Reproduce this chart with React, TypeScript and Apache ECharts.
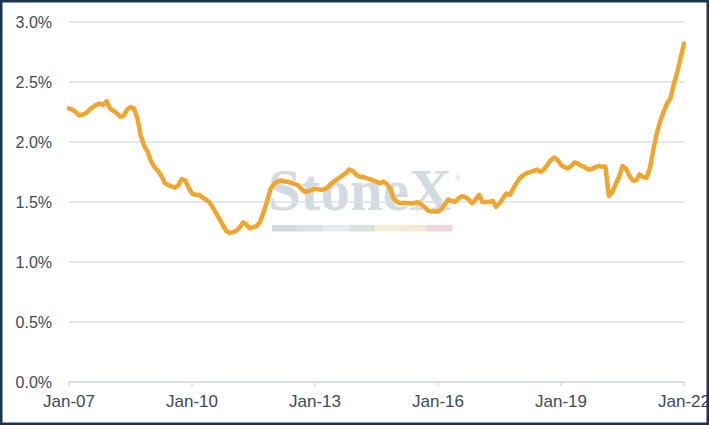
import React, { useEffect, useRef } from "react";
import * as echarts from "echarts";

const monthNames = ["Jan","Feb","Mar","Apr","May","Jun","Jul","Aug","Sep","Oct","Nov","Dec"];
const startYear = 2007;
const yTicks = [0, 0.5, 1.0, 1.5, 2.0, 2.5, 3.0];

// Monthly values, Jan-07 .. Jan-22 (%)
const values2007 = [2.28, 2.27, 2.25, 2.22, 2.23, 2.24, 2.27, 2.29, 2.31, 2.32, 2.31, 2.34];
const values2008 = [2.28, 2.26, 2.24, 2.21, 2.22, 2.27, 2.29, 2.28, 2.20, 2.05, 1.97, 1.92];
const values2009 = [1.84, 1.79, 1.76, 1.72, 1.66, 1.64, 1.63, 1.62, 1.64, 1.69, 1.68, 1.62];
const values2010 = [1.57, 1.56, 1.56, 1.54, 1.52, 1.50, 1.46, 1.41, 1.36, 1.31, 1.26, 1.24];
const values2011 = [1.25, 1.26, 1.29, 1.33, 1.31, 1.28, 1.29, 1.30, 1.34, 1.42, 1.51, 1.61];
const values2012 = [1.65, 1.67, 1.68, 1.67, 1.67, 1.66, 1.65, 1.64, 1.61, 1.585, 1.59, 1.60];
const values2013 = [1.61, 1.605, 1.60, 1.61, 1.63, 1.66, 1.68, 1.70, 1.72, 1.74, 1.77, 1.76];
const values2014 = [1.73, 1.71, 1.71, 1.70, 1.69, 1.68, 1.67, 1.655, 1.67, 1.65, 1.61, 1.53];
const values2015 = [1.50, 1.49, 1.495, 1.49, 1.49, 1.49, 1.50, 1.48, 1.46, 1.43, 1.42, 1.42];
const values2016 = [1.42, 1.44, 1.48, 1.52, 1.51, 1.50, 1.53, 1.55, 1.54, 1.52, 1.49, 1.52];
const values2017 = [1.56, 1.50, 1.50, 1.50, 1.51, 1.46, 1.49, 1.53, 1.57, 1.56, 1.61, 1.66];
const values2018 = [1.70, 1.725, 1.74, 1.75, 1.76, 1.77, 1.75, 1.77, 1.81, 1.85, 1.87, 1.85];
const values2019 = [1.81, 1.79, 1.78, 1.80, 1.83, 1.82, 1.80, 1.79, 1.77, 1.775, 1.79, 1.80];
const values2020 = [1.795, 1.795, 1.55, 1.58, 1.65, 1.71, 1.80, 1.78, 1.72, 1.68, 1.68, 1.73];
const values2021 = [1.71, 1.70, 1.78, 1.93, 2.07, 2.17, 2.25, 2.32, 2.36, 2.48, 2.58, 2.70];
const values2022 = [2.82];

const seriesValues = [
  ...values2007, ...values2008, ...values2009, ...values2010, ...values2011,
  ...values2012, ...values2013, ...values2014, ...values2015, ...values2016,
  ...values2017, ...values2018, ...values2019, ...values2020, ...values2021,
  ...values2022,
];

const categories = seriesValues.map((_, i) => {
  const y = startYear + Math.floor(i / 12);
  return monthNames[i % 12] + "-" + String(y % 100).padStart(2, "0");
});

const watermarkColors = ["#D3D9E0", "#D9E1E9", "#E3ECF4", "#D6E3D9", "#F4EFD9", "#F6E8D2", "#EFD6D9"];

export default function App() {
  const ref = useRef<HTMLDivElement>(null);
  useEffect(() => {
    if (!ref.current) return;
    const chart = echarts.init(ref.current, null, { renderer: "svg" });
    const barX = 272;
    const segW = 25.8;
    const bars = watermarkColors.map((c, i) => ({
      type: "rect",
      z: 0,
      silent: true,
      shape: { x: barX + i * segW, y: 225, width: segW, height: 6.5 },
      style: { fill: c },
    }));
    chart.setOption({
      animation: false,
      backgroundColor: "#ffffff",
      grid: { left: 69, right: 25, top: 22, bottom: 43, outerBoundsMode: "none", containLabel: false },
      xAxis: {
        type: "category",
        data: categories,
        boundaryGap: false,
        axisLine: { lineStyle: { color: "#D3DCE6", width: 1.5 } },
        axisTick: { show: true, interval: 35, length: 4, lineStyle: { color: "#D3DCE6", width: 1.5 } },
        axisLabel: {
          interval: 35,
          margin: 11,
          fontSize: 17,
          color: "#3E4A5A",
          fontFamily: "Liberation Sans",
          hideOverlap: false,
        },
        splitLine: { show: false },
      },
      yAxis: {
        type: "value",
        min: yTicks[0],
        max: yTicks[yTicks.length - 1],
        interval: 0.5,
        axisLine: { show: false },
        axisTick: { show: false },
        axisLabel: {
          margin: 17,
          fontSize: 16,
          color: "#3E4A5A",
          fontFamily: "Liberation Sans",
          formatter: (v: number) => v.toFixed(1) + "%",
        },
        splitLine: { lineStyle: { color: "#D8E0EA", width: 1.5 } },
      },
      graphic: [
        {
          type: "text",
          z: 0,
          silent: true,
          left: 268,
          top: 160,
          style: {
            text: "StoneX",
            fontFamily: "Liberation Serif",
            fontWeight: "bold",
            fontSize: 59,
            fill: "rgba(188,199,211,0.65)",
          },
        },
        {
          type: "text",
          z: 0,
          silent: true,
          left: 455,
          top: 174,
          style: { text: "®", fontFamily: "Liberation Sans", fontSize: 8, fill: "rgba(188,199,211,0.8)" },
        },
        ...bars,
        {
          type: "rect",
          z: 100,
          silent: true,
          shape: { x: 1.25, y: 1.25, width: 706.5, height: 422.5 },
          style: { fill: "none", stroke: "#1B3550", lineWidth: 2.5 },
        },
      ],
      series: [
        {
          type: "line",
          data: seriesValues,
          showSymbol: false,
          symbol: "none",
          z: 5,
          lineStyle: { color: "#F0A52E", width: 4.5, join: "round", cap: "round" },
        },
      ],
    });
    return () => chart.dispose();
  }, []);
  return (
    <div
      ref={ref}
      style={{ position: "absolute", left: 0, top: 0, width: 709, height: 425 }}
    />
  );
}
